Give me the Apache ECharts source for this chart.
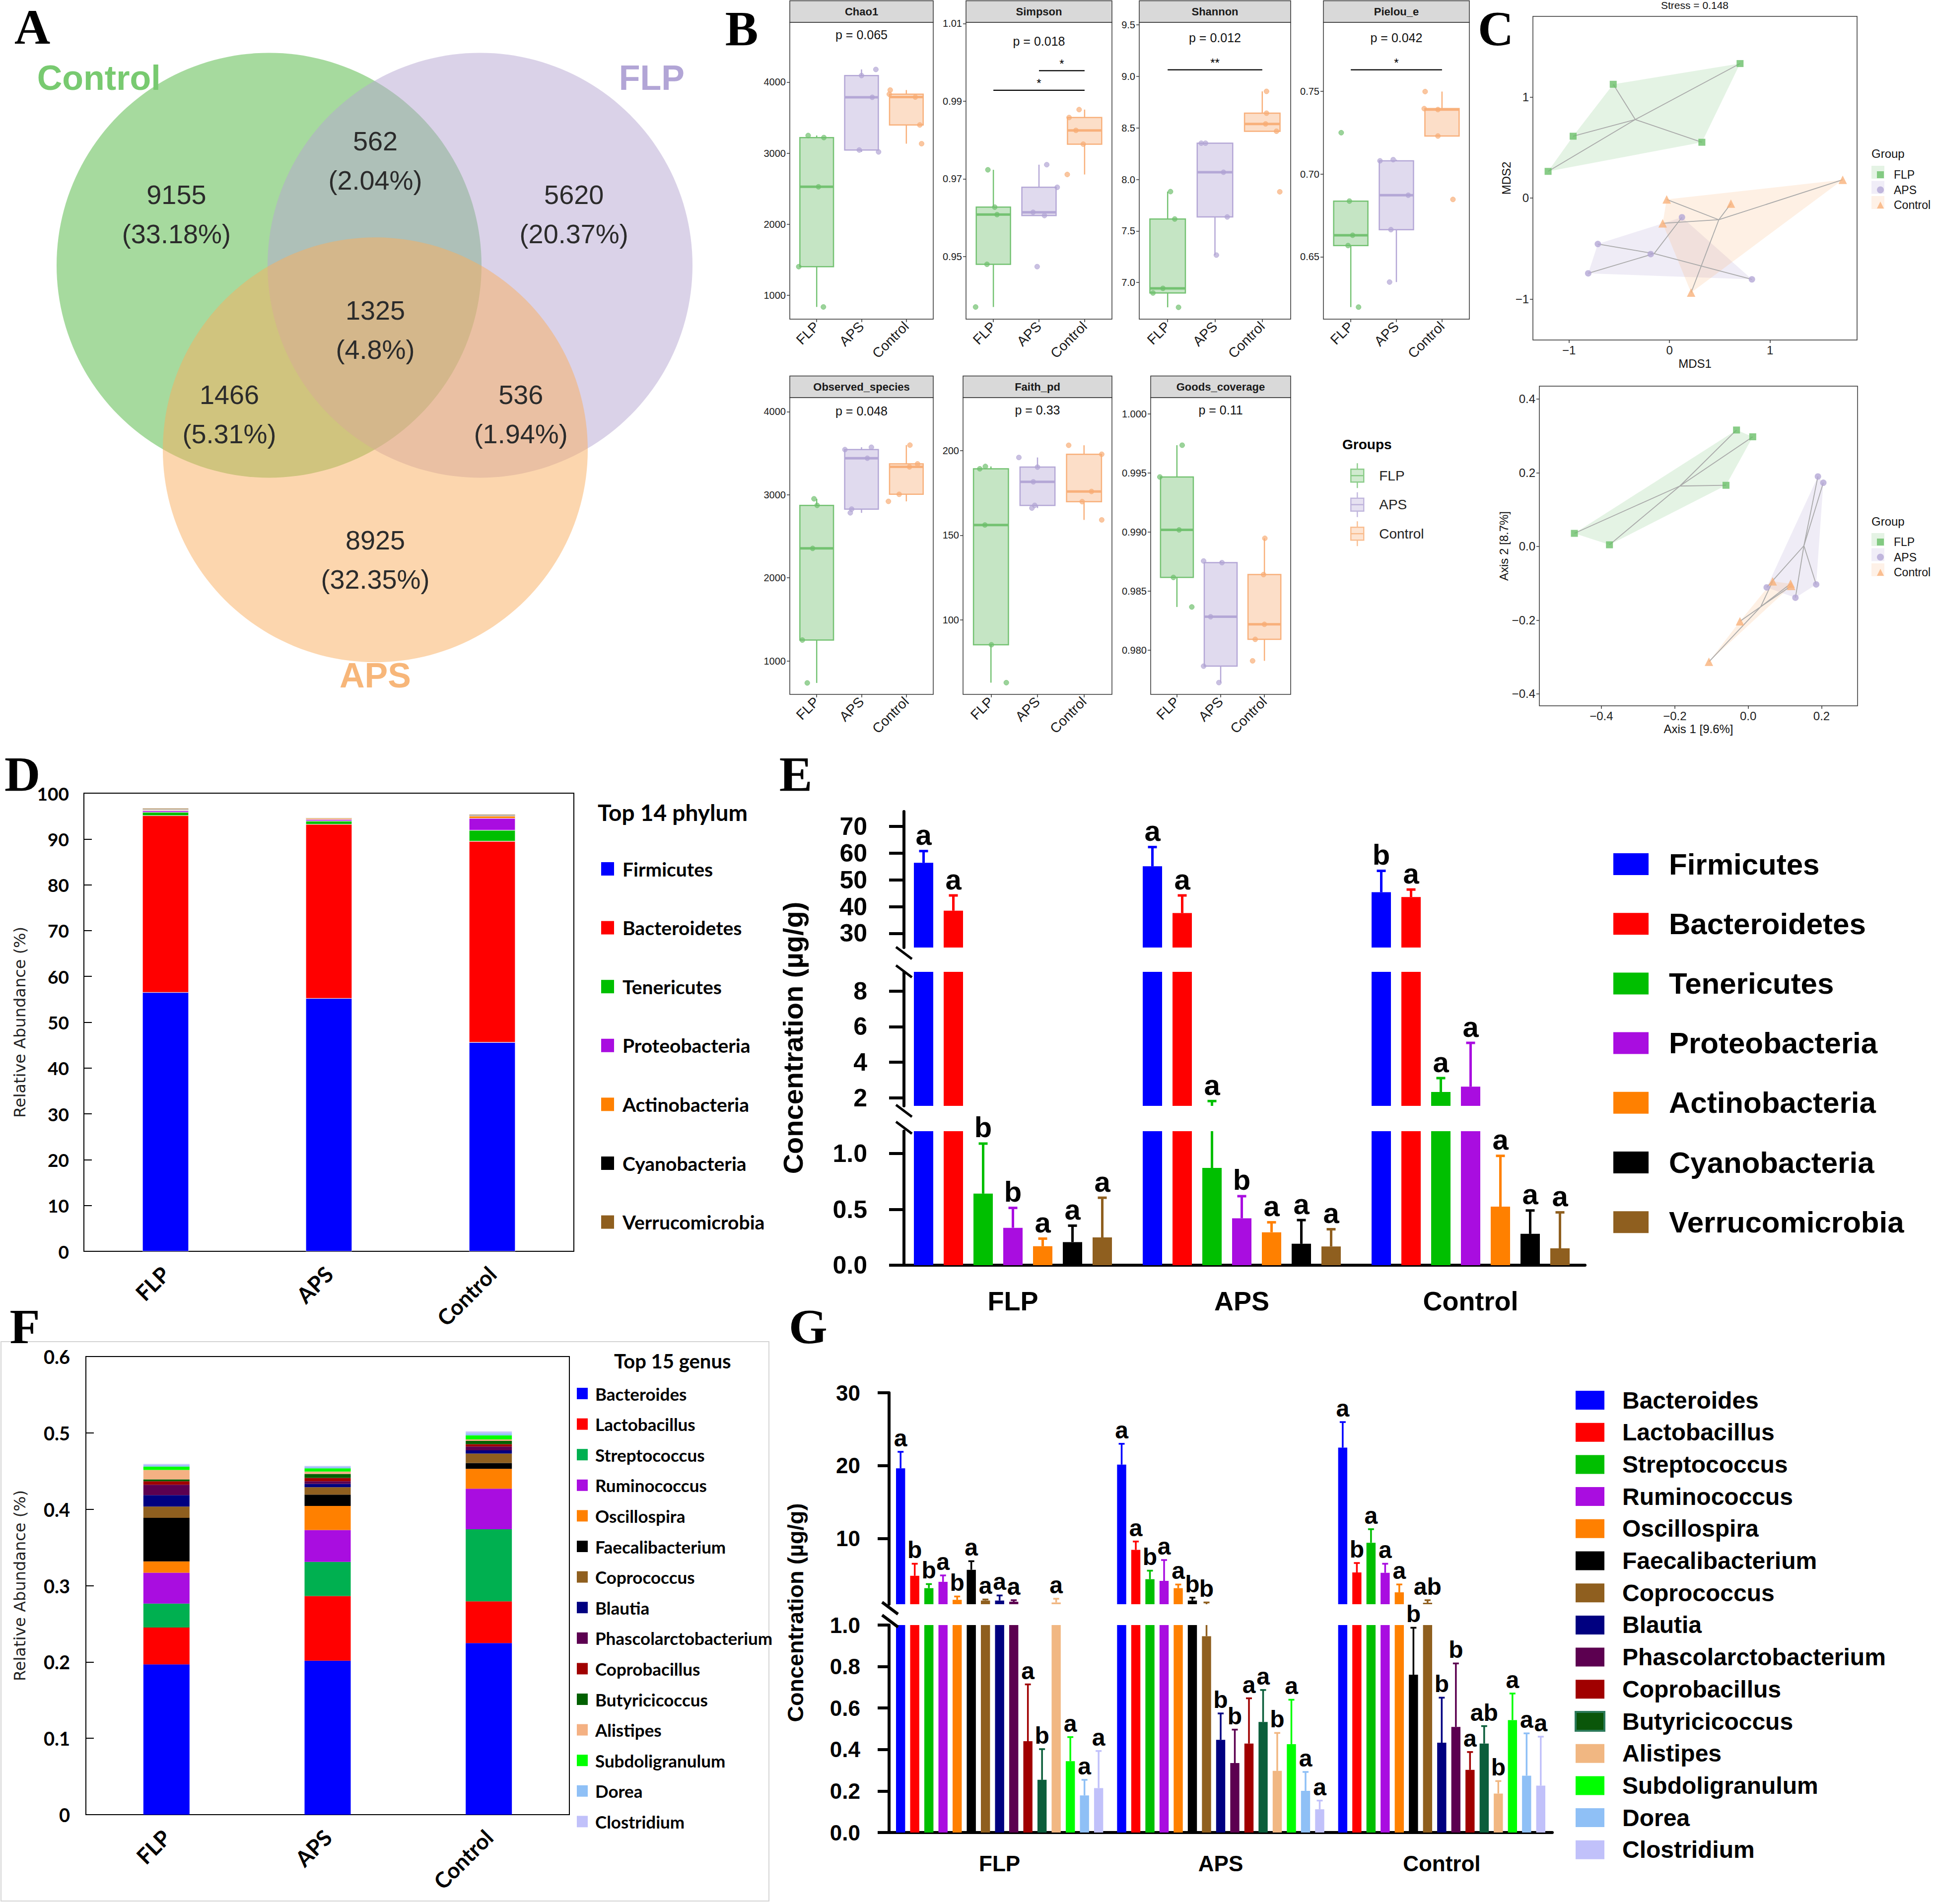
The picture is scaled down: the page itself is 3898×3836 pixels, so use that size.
<!DOCTYPE html>
<html><head><meta charset="utf-8"><title>Figure</title>
<script src="https://cdn.jsdelivr.net/npm/echarts@6.0.0/dist/echarts.min.js"></script>
<style>html,body{margin:0;padding:0;background:#fff;}#chart{width:3898px;height:3836px;}</style>
</head><body><div id="chart"></div>
<script>
// ================= DATA =================
const groups = ['FLP', 'APS', 'Control'];

// Panel A - Venn diagram (units = circle radius)
const vennSetNames = ['Control', 'FLP', 'APS'];
const vennCenters = [[0, 0], [0.993, 0], [0.5, -0.869]];
const vennRadius = 1;
const vennCounts = ['9155', '562', '5620', '1325', '1466', '536', '8925'];
const vennPercents = ['(33.18%)', '(2.04%)', '(20.37%)', '(4.8%)', '(5.31%)', '(1.94%)', '(32.35%)'];
const vennRegionAnchors = [[-0.436, 0.24], [0.5, 0.492], [1.435, 0.24], [0.5, -0.304], [-0.187, -0.701], [1.185, -0.701], [0.5, -1.387]];
const vennNameAnchors = [[-0.801, 0.883], [1.801, 0.883], [0.5, -1.932]];

// Panel B - alpha diversity, samples per group as [jittered x, value]
const alphaMetrics = ['Chao1', 'Simpson', 'Shannon', 'Pielou_e', 'Observed_species', 'Faith_pd', 'Goods_coverage'];
const alphaPLabels = ['p = 0.065', 'p = 0.018', 'p = 0.012', 'p = 0.042', 'p = 0.048', 'p = 0.33', 'p = 0.11'];
const chao1Points = [
  [[0.60, 1402], [0.81, 3248], [1.16, 3219], [1.04, 2526], [1.15, 835]],
  [[2.00, 4092], [2.32, 4178], [2.24, 3786], [1.95, 3044], [2.38, 3017]],
  [[2.64, 3888], [2.62, 3829], [3.20, 3789], [3.30, 3397], [3.34, 3133]]];
const simpsonPoints = [
  [[0.88, 0.97234], [1.03, 0.96273], [1.08, 0.96081], [0.86, 0.94802], [0.61, 0.93703]],
  [[2.17, 0.97366], [2.40, 0.96784], [1.87, 0.96141], [2.12, 0.96057], [1.96, 0.94742]],
  [[2.88, 0.98784], [2.66, 0.98580], [2.81, 0.98249], [2.97, 0.97895], [2.62, 0.97114]]];
const shannonPoints = [
  [[1.06, 7.882], [1.15, 7.616], [0.90, 6.943], [0.69, 6.898], [1.23, 6.759]],
  [[1.71, 8.352], [1.80, 8.352], [2.18, 8.070], [2.26, 7.636], [2.03, 7.266]],
  [[3.09, 8.855], [3.09, 8.643], [3.07, 8.539], [3.30, 8.468], [3.37, 7.880]]];
const pielouPoints = [
  [[0.79, 0.7250], [0.97, 0.68366], [1.04, 0.66301], [0.94, 0.65679], [1.17, 0.61959]],
  [[1.64, 0.7080], [1.93, 0.7087], [2.26, 0.6872], [1.88, 0.6664], [1.85, 0.63472]],
  [[2.63, 0.74986], [2.61, 0.73954], [2.91, 0.73897], [2.91, 0.72299], [3.24, 0.68466]]];
const observedPoints = [
  [[0.94, 2951], [1.01, 2872], [0.91, 2354], [0.68, 1251], [0.79, 735]],
  [[1.63, 3543], [2.22, 3571], [2.13, 3439], [1.78, 2827], [1.75, 2782]],
  [[3.08, 3597], [3.25, 3371], [3.07, 3335], [2.84, 3005], [2.60, 2920]]];
const faithPoints = [
  [[0.88, 190.7], [0.76, 189.3], [0.87, 156.1], [1.01, 85.3], [1.33, 62.9]],
  [[1.60, 196.0], [2.00, 190.3], [1.91, 181.6], [1.94, 167.7], [1.88, 166.1]],
  [[2.67, 203.2], [3.38, 197.9], [3.16, 175.9], [2.96, 169.9], [3.38, 159.1]]];
const goodsPoints = [
  [[1.12, 0.99734], [0.61, 0.99465], [1.05, 0.99017], [0.92, 0.98615], [1.34, 0.98365]],
  [[1.61, 0.98754], [2.03, 0.98740], [1.77, 0.98282], [1.61, 0.97864], [1.96, 0.97725]],
  [[3.01, 0.98946], [2.98, 0.98639], [3.00, 0.98218], [2.79, 0.98091], [2.73, 0.97909]]];
const alphaPoints = [chao1Points, simpsonPoints, shannonPoints, pielouPoints, observedPoints, faithPoints, goodsPoints];
const alphaYRange = [[663, 4841], [0.9339, 1.0103], [6.644, 9.525], [0.6123, 0.7917], [597, 4169], [55.96, 231.4], [0.97625, 1.00137]];
const alphaYTicks = [[1000, 2000, 3000, 4000], [0.95, 0.97, 0.99, 1.01], [7.0, 7.5, 8.0, 8.5, 9.0, 9.5], [0.65, 0.70, 0.75],
  [1000, 2000, 3000, 4000], [100, 150, 200], [0.980, 0.985, 0.990, 0.995, 1.000]];
const alphaTickDecimals = [0, 2, 1, 2, 0, 0, 3];
// [metric index, group a (1-based), group b, bar height, label]
const alphaSignif = [[1, 2, 3, 0.99787, '*'], [1, 1, 3, 0.99282, '*'], [2, 1, 3, 9.064, '**'], [3, 1, 3, 0.763, '*']];

// Panel C - ordinations
const nmdsFLP = [[0.702, 1.331], [-0.560, 1.126], [-0.959, 0.612], [0.322, 0.552], [-1.208, 0.264]];
const nmdsAPS = [[0.124, -0.190], [-0.713, -0.455], [-0.187, -0.555], [-0.809, -0.745], [0.820, -0.805]];
const nmdsControl = [[1.723, 0.181], [-0.028, -0.014], [0.611, -0.055], [-0.068, -0.250], [0.215, -0.936]];
const pcoaFLP = [[-0.0318, 0.316], [0.0124, 0.2976], [-0.0605, 0.166], [-0.4736, 0.0356], [-0.378, 0.0045]];
const pcoaAPS = [[0.190, 0.190], [0.2047, 0.173], [0.0504, -0.111], [0.1853, -0.103], [0.1287, -0.139]];
const pcoaControl = [[0.0667, -0.0947], [0.1155, -0.101], [0.117, -0.107], [-0.0225, -0.203], [-0.107, -0.313]];
const nmdsXTicks = [-1, 0, 1];
const nmdsYTicks = [-1, 0, 1];
const pcoaXTicks = [-0.4, -0.2, 0, 0.2];
const pcoaYTicks = [-0.4, -0.2, 0, 0.2, 0.4];

// Panel D - phylum relative abundance (%) [FLP, APS, Control]
const phyla = ['Firmicutes', 'Bacteroidetes', 'Tenericutes', 'Proteobacteria', 'Actinobacteria', 'Cyanobacteria', 'Verrucomicrobia'];
const phylumAbundance = [
  [56.5, 55.2, 45.6], [38.6, 38.0, 43.9], [0.73, 0.72, 2.4], [0.33, 0.33, 2.6],
  [0.13, 0.25, 0.5], [0.15, 0.12, 0.2], [0.25, 0.10, 0.2]];

// Panel E - phylum concentration (ug/g): mean, top of error bar, letters
const phylumConc = [
  [56.4, 55.1, 45.4], [38.5, 37.6, 43.6], [0.641, 0.871, 2.33], [0.335, 0.42, 2.63],
  [0.170, 0.295, 0.524], [0.207, 0.192, 0.281], [0.249, 0.168, 0.151]];
const phylumConcErr = [
  [60.8, 62.3, 53.4], [44.2, 44.2, 46.4], [1.089, 1.82, 3.11], [0.513, 0.618, 5.09],
  [0.238, 0.384, 0.979], [0.354, 0.404, 0.49], [0.604, 0.322, 0.473]];
const phylumLetters = [['a', 'a', 'b'], ['a', 'a', 'a'], ['b', 'a', 'a'], ['b', 'b', 'a'], ['a', 'a', 'a'], ['a', 'a', 'a'], ['a', 'a', 'a']];
const eSegments = [[24.7, 75.6], [1.55, 9.08], [0, 1.2]];
const eTicks = [[30, 40, 50, 60, 70], [2, 4, 6, 8], [0, 0.5, 1.0]];

// Panel F - genus relative abundance [FLP, APS, Control]
const genera = ['Bacteroides', 'Lactobacillus', 'Streptococcus', 'Ruminococcus', 'Oscillospira', 'Faecalibacterium', 'Coprococcus',
  'Blautia', 'Phascolarctobacterium', 'Coprobacillus', 'Butyricicoccus', 'Alistipes', 'Subdoligranulum', 'Dorea', 'Clostridium'];
const genusAbundance = [
  [0.1968, 0.2017, 0.2248], [0.0482, 0.0846, 0.0546], [0.0315, 0.0447, 0.0944], [0.0404, 0.0418, 0.0531],
  [0.0148, 0.0315, 0.0261], [0.0571, 0.0148, 0.0076], [0.0148, 0.0098, 0.0123], [0.0148, 0.0044, 0.0043],
  [0.0138, 0.0034, 0.0050], [0.0044, 0.0043, 0.0030], [0.0025, 0.0053, 0.0043], [0.0123, 0.0030, 0.0019],
  [0.0044, 0.0043, 0.0054], [0.0020, 0.0020, 0.0027], [0.0015, 0.0011, 0.0023]];

// Panel G - genus concentration (ug/g)
const genusConc = [
  [19.64, 20.15, 22.47], [4.9, 8.45, 5.36], [3.2, 4.43, 9.43], [4.07, 4.2, 5.31], [1.6, 3.2, 2.63],
  [5.72, 1.5, 0.761], [1.5, 0.946, 1.2], [1.5, 0.447, 0.433], [1.34, 0.335, 0.509], [0.44, 0.429, 0.302],
  [0.254, 0.533, 0.429], [1.24, 0.297, 0.188], [0.344, 0.426, 0.542], [0.179, 0.201, 0.274], [0.214, 0.112, 0.226]];
const genusConcErr = [
  [21.9, 23.0, 25.98], [6.55, 9.6, 6.65], [3.76, 5.6, 11.29], [4.95, 7.06, 6.55], [2.06, 3.7, 3.71],
  [6.9, 1.9, 0.987], [1.65, 1.24, 1.55], [2.2, 0.574, 0.65], [1.55, 0.496, 0.815], [0.714, 0.647, 0.388],
  [0.402, 0.687, 0.513], [1.75, 0.48, 0.248], [0.46, 0.64, 0.67], [0.254, 0.292, 0.478], [0.393, 0.154, 0.462]];
const genusLetters = [
  ['a', 'a', 'a'], ['b', 'a', 'b'], ['b', 'b', 'a'], ['a', 'a', 'a'], ['b', 'a', 'a'], ['a', 'b', 'b'], ['a', 'b', 'ab'],
  ['a', 'b', 'b'], ['a', 'b', 'b'], ['a', 'a', 'a'], ['b', 'a', 'ab'], ['a', 'b', 'b'], ['a', 'a', 'a'], ['a', 'a', 'a'], ['a', 'a', 'a']];
const gSegments = [[1, 30], [0, 1]];
const gTicks = [[10, 20, 30], [0, 0.2, 0.4, 0.6, 0.8, 1.0]];

// ================= STYLE / LAYOUT =================
const SANS = "'Liberation Sans', Arial, Helvetica, sans-serif";
const SERIF = "'Liberation Serif', 'DejaVu Serif', serif";
const CAL = "Lato, 'Open Sans', sans-serif";
const DEJ = "'DejaVu Sans', Verdana, sans-serif";

const phylumColors = ['#0000ff', '#ff0000', '#00bf00', '#a90de0', '#ff8000', '#000000', '#8f5f1f'];
const genusColorsF = ['#0000ff', '#ff0000', '#00b050', '#a90de0', '#ff8000', '#000000', '#8f5f1f', '#000080', '#5c0050', '#a00000', '#006000', '#f4b183', '#00ff00', '#8fc0f6', '#c1c1fa'];
const genusColorsG = ['#0000ff', '#ff0000', '#00bf00', '#a90de0', '#ff8000', '#000000', '#8f5f1f', '#000080', '#5c0050', '#a00000', '#0b5e3b', '#f1b782', '#00ff00', '#8fc0f6', '#c1c1fa'];

const grid = [], xAxis = [], yAxis = [], series = [], legend = [], graphic = [];
function addGrid(r, extra) {
  grid.push(Object.assign({left: r[0], top: r[1], width: r[2], height: r[3], containLabel: false}, extra || {}));
  return grid.length - 1;
}
function txt(x, y, text, size, o) {
  o = o || {};
  return {type: 'text', x: x, y: y, rotation: o.rotation || 0, z: 100, silent: true,
    style: {text: text, fontSize: size, fontFamily: o.family || SANS, fontWeight: o.weight || 'normal', fontStyle: o.style || 'normal',
      fill: o.color || '#000', textAlign: o.align || 'center', align: o.align || 'center',
      textVerticalAlign: o.valign || 'middle', verticalAlign: o.valign || 'middle'}};
}
function gline(x1, y1, x2, y2, w, c) {
  return {type: 'line', silent: true, z: 100, shape: {x1: x1, y1: y1, x2: x2, y2: y2}, style: {stroke: c || '#000', lineWidth: w}};
}
function quantile(s, p) { const h = (s.length - 1) * p, lo = Math.floor(h), hi = Math.ceil(h); return s[lo] + (s[hi] - s[lo]) * (h - lo); }
function boxStats(vals) {
  const s = vals.slice().sort((a, b) => a - b);
  const q1 = quantile(s, 0.25), med = quantile(s, 0.5), q3 = quantile(s, 0.75), iqr = q3 - q1;
  const lo = s.find(v => v >= q1 - 1.5 * iqr);
  const hi = s.slice().reverse().find(v => v <= q3 + 1.5 * iqr);
  return [lo, q1, med, q3, hi];
}
function convexHull(pts) {
  const p = pts.map(q => [q[0], q[1]]).sort((a, b) => a[0] - b[0] || a[1] - b[1]);
  const cross = (o, a, b) => (a[0] - o[0]) * (b[1] - o[1]) - (a[1] - o[1]) * (b[0] - o[0]);
  const lower = [], upper = [];
  for (const q of p) { while (lower.length >= 2 && cross(lower[lower.length - 2], lower[lower.length - 1], q) <= 0) lower.pop(); lower.push(q); }
  for (let i = p.length - 1; i >= 0; i--) { const q = p[i]; while (upper.length >= 2 && cross(upper[upper.length - 2], upper[upper.length - 1], q) <= 0) upper.pop(); upper.push(q); }
  upper.pop(); lower.pop();
  return lower.concat(upper);
}
function fmtMinus(v, d) { return (v < -1e-9 ? '\u2212' : '') + Math.abs(v).toFixed(d); }

// Panel letters
[['A', 65, 54], ['B', 1494, 57], ['C', 3013, 57], ['D', 45, 1559], ['E', 1603, 1559], ['F', 50, 2672], ['G', 1628, 2672]]
  .forEach(a => graphic.push(txt(a[1], a[2], a[0], 100, {family: SERIF, weight: 'bold'})));

// ================= PANEL A =================
(function () {
  const gi = addGrid([7, 21, 1498, 1412]);
  xAxis.push({gridIndex: gi, type: 'value', min: -1.25, max: 2.25, show: false});
  yAxis.push({gridIndex: gi, type: 'value', min: -2.1, max: 1.2, show: false});
  const fills = ['rgba(77,181,61,0.5)', 'rgba(181,165,209,0.5)', 'rgba(249,173,93,0.5)'];
  const nameColors = ['#78ca70', '#b2a5d6', '#f7b679'];
  series.push({type: 'custom', name: 'venn-sets', xAxisIndex: gi, yAxisIndex: gi, silent: true, z: 1,
    data: vennCenters.map(c => [c[0], c[1], vennRadius]),
    renderItem: (p, api) => {
      const c = api.coord([api.value(0), api.value(1)]);
      const r = api.size([api.value(2), 0])[0];
      return {type: 'circle', shape: {cx: c[0], cy: c[1], r: r}, style: {fill: fills[p.dataIndex]}};
    }});
  series.push({type: 'custom', name: 'venn-counts', xAxisIndex: gi, yAxisIndex: gi, silent: true, z: 3,
    data: vennRegionAnchors,
    renderItem: (p, api) => {
      const c = api.coord([api.value(0), api.value(1)]);
      return {type: 'text', x: c[0], y: c[1], style: {text: vennCounts[p.dataIndex] + '\n' + vennPercents[p.dataIndex],
        fontSize: 54, lineHeight: 79, fontFamily: SANS, fill: '#2b2b2b', align: 'center', textAlign: 'center', verticalAlign: 'middle', textVerticalAlign: 'middle'}};
    }});
  series.push({type: 'custom', name: 'venn-names', xAxisIndex: gi, yAxisIndex: gi, silent: true, z: 3,
    data: vennNameAnchors,
    renderItem: (p, api) => {
      const c = api.coord([api.value(0), api.value(1)]);
      return {type: 'text', x: c[0], y: c[1], style: {text: vennSetNames[p.dataIndex], fontSize: 70, fontWeight: 'bold', fontFamily: SANS,
        fill: nameColors[p.dataIndex], align: 'center', textAlign: 'center', verticalAlign: 'middle', textVerticalAlign: 'middle'}};
    }});
})();

// ================= PANEL B =================
const bRects = [[1591, 45, 289, 598], [1946, 45, 294, 598], [2295, 45, 305, 598], [2666, 45, 294, 598],
  [1591, 801, 289, 598], [1940, 801, 300, 598], [2318, 801, 282, 598]];
const pLabelY = [70, 83, 76, 76, 828, 826, 826];
const bLine = ['#74c272', '#b4a7d6', '#f8b07b'];
const bFill = ['rgba(116,194,114,0.42)', 'rgba(180,167,214,0.42)', 'rgba(248,176,123,0.42)'];
const bPoint = ['rgba(108,190,106,0.85)', 'rgba(176,162,211,0.85)', 'rgba(247,171,115,0.85)'];
alphaMetrics.forEach((m, mi) => {
  const r = bRects[mi];
  const gi = addGrid(r, {show: true, borderColor: '#333', borderWidth: 1.5});
  xAxis.push({gridIndex: gi, type: 'value', min: 0.4, max: 3.6, splitLine: {show: false}, axisLine: {show: false, onZero: false},
    axisTick: {show: true, customValues: [1, 2, 3], length: 6, lineStyle: {color: '#333', width: 1.5}},
    axisLabel: {customValues: [1, 2, 3], formatter: v => groups[Math.round(v) - 1], rotate: 45, fontSize: 28, fontFamily: SANS, color: '#1a1a1a', margin: 10}});
  yAxis.push({gridIndex: gi, type: 'value', min: alphaYRange[mi][0], max: alphaYRange[mi][1], splitLine: {show: false}, axisLine: {show: false, onZero: false},
    axisTick: {show: true, customValues: alphaYTicks[mi], length: 6, lineStyle: {color: '#333', width: 1.5}},
    axisLabel: {customValues: alphaYTicks[mi], formatter: v => v.toFixed(alphaTickDecimals[mi]), fontSize: 20, fontFamily: SANS, color: '#1a1a1a', margin: 8}});
  graphic.push({type: 'rect', silent: true, z: 90, shape: {x: r[0], y: r[1] - 43.6, width: r[2], height: 43.6}, style: {fill: '#d9d9d9', stroke: '#333', lineWidth: 1.5}});
  graphic.push(txt(r[0] + r[2] / 2, r[1] - 21.8, m, 22, {weight: 'bold', color: '#1a1a1a'}));
  graphic.push(txt(r[0] + r[2] / 2, pLabelY[mi], alphaPLabels[mi], 25, {color: '#111'}));
  series.push({type: 'custom', name: 'box-' + m, xAxisIndex: gi, yAxisIndex: gi, silent: true, z: 2,
    data: groups.map((g, k) => [k + 1].concat(boxStats(alphaPoints[mi][k].map(q => q[1])))),
    renderItem: (p, api) => {
      const k = p.dataIndex, x = api.value(0);
      const hw = api.size([0.375, 0])[0];
      const X = api.coord([x, api.value(3)])[0];
      const y = [1, 2, 3, 4, 5].map(i => api.coord([x, api.value(i)])[1]);
      return {type: 'group', children: [
        {type: 'line', shape: {x1: X, y1: y[1], x2: X, y2: y[0]}, style: {stroke: bLine[k], lineWidth: 2.5}},
        {type: 'line', shape: {x1: X, y1: y[3], x2: X, y2: y[4]}, style: {stroke: bLine[k], lineWidth: 2.5}},
        {type: 'rect', shape: {x: X - hw, y: y[3], width: 2 * hw, height: y[1] - y[3]}, style: {fill: bFill[k], stroke: bLine[k], lineWidth: 2.5}},
        {type: 'line', shape: {x1: X - hw, y1: y[2], x2: X + hw, y2: y[2]}, style: {stroke: bLine[k], lineWidth: 5}}]};
    }});
  groups.forEach((g, k) => series.push({type: 'scatter', name: g, xAxisIndex: gi, yAxisIndex: gi, silent: true, z: 4,
    data: alphaPoints[mi][k], symbolSize: 10, itemStyle: {color: bPoint[k], borderColor: bLine[k], borderWidth: 1}}));
  const sig = alphaSignif.filter(s => s[0] === mi);
  if (sig.length) series.push({type: 'custom', name: 'sig-' + m, xAxisIndex: gi, yAxisIndex: gi, silent: true, z: 5,
    data: sig.map(s => [s[1], s[2], s[3]]),
    renderItem: (p, api) => {
      const a = api.coord([api.value(0), api.value(2)]), b = api.coord([api.value(1), api.value(2)]);
      return {type: 'group', children: [
        {type: 'line', shape: {x1: a[0], y1: a[1], x2: b[0], y2: b[1]}, style: {stroke: '#000', lineWidth: 2.2}},
        {type: 'text', x: (a[0] + b[0]) / 2, y: a[1] - 14, style: {text: sig[p.dataIndex][4], fontSize: 24, fontFamily: SANS, fill: '#000',
          align: 'center', textAlign: 'center', verticalAlign: 'middle', textVerticalAlign: 'middle'}}]};
    }});
});
graphic.push(txt(2704, 895, 'Groups', 28, {weight: 'bold', align: 'left'}));
legend.push({orient: 'vertical', left: 2715, top: 927, itemWidth: 30, itemHeight: 50, itemGap: 6, selectedMode: false,
  icon: 'path://M15,0L15,12M2,12L28,12L28,38L2,38ZM2,25L28,25M15,38L15,50',
  textStyle: {fontSize: 28, fontFamily: SANS, color: '#222', lineHeight: 28, padding: [0, 0, 0, 24]},
  data: groups.map((g, k) => ({name: g, itemStyle: {color: bFill[k], borderColor: bLine[k], borderWidth: 2.5}}))});

// ================= PANEL C =================
const cColors = ['#6abf69', '#b4a7d6', '#f9b27a'];
const cFill = ['rgba(106,191,105,0.18)', 'rgba(180,167,214,0.22)', 'rgba(249,178,122,0.2)'];
const cKeyBg = ['rgba(106,191,105,0.18)', 'rgba(180,167,214,0.2)', 'rgba(249,178,122,0.18)'];
const cSymbols = ['rect', 'circle', 'triangle'];
const cSizes = [14, 13, 17];
function addOrdination(r, sets, xr, yr, xt, yt, dec, xName, yName, xGap, yGap) {
  const gi = addGrid(r, {show: true, borderColor: '#333', borderWidth: 1.5});
  xAxis.push({gridIndex: gi, type: 'value', min: xr[0], max: xr[1], splitLine: {show: false}, axisLine: {show: false, onZero: false},
    axisTick: {customValues: xt, length: 6, lineStyle: {color: '#333', width: 1.5}},
    axisLabel: {customValues: xt, formatter: v => fmtMinus(v, dec), fontSize: 24, fontFamily: SANS, color: '#222', margin: 8},
    name: xName, nameLocation: 'middle', nameGap: xGap, nameTextStyle: {fontSize: 24, fontFamily: SANS, color: '#111'}});
  yAxis.push({gridIndex: gi, type: 'value', min: yr[0], max: yr[1], splitLine: {show: false}, axisLine: {show: false, onZero: false},
    axisTick: {customValues: yt, length: 6, lineStyle: {color: '#333', width: 1.5}},
    axisLabel: {customValues: yt, formatter: v => fmtMinus(v, dec), fontSize: 24, fontFamily: SANS, color: '#222', margin: 8},
    name: yName, nameLocation: 'middle', nameGap: yGap, nameTextStyle: {fontSize: 24, fontFamily: SANS, color: '#111'}});
  sets.forEach((pts, k) => {
    const cen = [pts.reduce((s, q) => s + q[0], 0) / pts.length, pts.reduce((s, q) => s + q[1], 0) / pts.length];
    series.push({type: 'custom', name: groups[k] + '-hull', xAxisIndex: gi, yAxisIndex: gi, silent: true, z: 1, data: pts,
      renderItem: (p, api) => {
        if (p.dataIndex !== 0) return null;
        return {type: 'polygon', shape: {points: convexHull(pts.map(q => api.coord(q)))}, style: {fill: cFill[k]}};
      }});
    series.push({type: 'custom', name: groups[k] + '-spider', xAxisIndex: gi, yAxisIndex: gi, silent: true, z: 2, data: pts,
      renderItem: (p, api) => {
        const a = api.coord(cen), b = api.coord([api.value(0), api.value(1)]);
        return {type: 'line', shape: {x1: a[0], y1: a[1], x2: b[0], y2: b[1]}, style: {stroke: '#a9a9a9', lineWidth: 1.8}};
      }});
    series.push({type: 'scatter', name: groups[k], xAxisIndex: gi, yAxisIndex: gi, silent: true, z: 3, data: pts,
      symbol: cSymbols[k], symbolSize: cSizes[k], itemStyle: {color: cColors[k]}});
  });
}
addOrdination([3088, 33, 653, 652], [nmdsFLP, nmdsAPS, nmdsControl], [-1.359, 1.866], [-1.405, 1.798], nmdsXTicks, nmdsYTicks, 0, 'MDS1', 'MDS2', 35, 42);
addOrdination([3101, 778, 641, 644], [pcoaFLP, pcoaAPS, pcoaControl], [-0.569, 0.298], [-0.4324, 0.435], pcoaXTicks, pcoaYTicks, 1, 'Axis 1 [9.6%]', 'Axis 2 [8.7%]', 34, 58);
graphic.push(txt(3414, 10, 'Stress = 0.148', 21, {color: '#111'}));
[[309, 335], [1050, 1075]].forEach(pos => {
  graphic.push(txt(3770, pos[0], 'Group', 24, {align: 'left', color: '#111'}));
  groups.forEach((g, k) => graphic.push({type: 'rect', silent: true, z: 1, shape: {x: 3770, y: pos[1] + 12 + k * 30.5 - 13, width: 26, height: 26}, style: {fill: cKeyBg[k]}}));
  legend.push({orient: 'vertical', left: 3776, top: pos[1], itemWidth: 14, itemHeight: 14, itemGap: 6.5, selectedMode: false,
    textStyle: {fontSize: 23, fontFamily: SANS, color: '#111', lineHeight: 24, padding: [0, 0, 0, 15]},
    data: groups.map((g, k) => ({name: g, icon: cSymbols[k], itemStyle: {color: cColors[k], borderWidth: 0}}))});
});

// ================= PANEL D =================
(function () {
  const gi = addGrid([169, 1598, 987, 923], {show: true, borderColor: '#000', borderWidth: 2});
  xAxis.push({gridIndex: gi, type: 'category', data: groups, axisLine: {lineStyle: {color: '#000', width: 2}}, axisTick: {show: false},
    axisLabel: {rotate: 45, interval: 0, fontSize: 44, fontWeight: 'bold', fontFamily: CAL, color: '#000', margin: 38}});
  yAxis.push({gridIndex: gi, type: 'value', min: 0, max: 100, interval: 10, splitLine: {show: false},
    axisLine: {show: true, lineStyle: {color: '#000', width: 2}}, axisTick: {show: true, inside: true, length: 16, lineStyle: {color: '#000', width: 2}},
    axisLabel: {fontSize: 37, fontWeight: 'bold', fontFamily: CAL, color: '#000', margin: 30},
    name: 'Relative Abundance (%)', nameLocation: 'middle', nameGap: 113, nameTextStyle: {fontSize: 32, fontFamily: DEJ, color: '#222'}});
  phyla.forEach((ph, k) => series.push({type: 'bar', name: ph, xAxisIndex: gi, yAxisIndex: gi, stack: 'D', barWidth: 93, silent: true,
    data: phylumAbundance[k], itemStyle: {color: phylumColors[k], borderColor: '#fff', borderWidth: 0.6}}));
  graphic.push(txt(1204, 1636, 'Top 14 phylum', 46, {family: CAL, weight: 'bold', align: 'left'}));
  legend.push({orient: 'vertical', left: 1206, top: 1726, itemWidth: 26, itemHeight: 27, itemGap: 79.6, icon: 'rect', selectedMode: false,
    textStyle: {fontSize: 39, fontWeight: 'bold', fontFamily: CAL, color: '#000', lineHeight: 38, padding: [0, 0, 0, 12]},
    data: phyla.map((ph, k) => ({name: ph, itemStyle: {color: phylumColors[k], borderWidth: 0}}))});
})();

// ================= Broken-axis bar helper =================
function brokenBars(names, colors, means, errs, letters, gi, seg, geo) {
  const n = names.length;
  names.forEach((nm, k) => series.push({type: 'custom', name: nm, xAxisIndex: gi, yAxisIndex: gi, silent: true, z: 5,
    itemStyle: {color: colors[k]},
    data: groups.map((g, i) => [i, means[k][i], errs[k][i]]),
    renderItem: (p, api) => {
      const gIdx = api.value(0), v = api.value(1), e = api.value(2);
      const band = api.size([1, 0])[0];
      const cx = api.coord([gIdx, 0])[0] + (k - (n - 1) / 2) * band * geo.step;
      const w = band * geo.width, cw = band * geo.cap;
      const lo = seg[0], hi = seg[1];
      const ch = [];
      const base = Math.max(0, lo), top = Math.min(v, hi);
      if (top > base) {
        const y0 = api.coord([gIdx, base])[1], y1 = api.coord([gIdx, top])[1];
        ch.push({type: 'rect', shape: {x: cx - w / 2, y: y1, width: w, height: y0 - y1}, style: {fill: colors[k]}});
      }
      const el = Math.max(v, lo), eh = Math.min(e, hi);
      if (eh > el) {
        const y0 = api.coord([gIdx, el])[1], y1 = api.coord([gIdx, eh])[1];
        ch.push({type: 'line', shape: {x1: cx, y1: y0, x2: cx, y2: y1}, style: {stroke: colors[k], lineWidth: geo.lw}});
      }
      if (e >= lo && e <= hi) {
        const ye = api.coord([gIdx, e])[1];
        ch.push({type: 'line', shape: {x1: cx - cw / 2, y1: ye, x2: cx + cw / 2, y2: ye}, style: {stroke: colors[k], lineWidth: geo.lw}});
        ch.push({type: 'text', x: cx, y: ye - geo.lg, style: {text: letters[k][gIdx], fontSize: geo.lf, fontWeight: 'bold', fontFamily: SANS, fill: '#000',
          align: 'center', textAlign: 'center', verticalAlign: 'bottom', textVerticalAlign: 'bottom'}});
      }
      return {type: 'group', children: ch};
    }}));
}
function breakMarks(x, ys, w) {
  ys.forEach(y => graphic.push(gline(x - 16, y - 12, x + 16, y + 12, w)));
}

// ================= PANEL E =================
(function () {
  const rects = [[1810, 1635, 1383, 274], [1810, 1958, 1383, 270], [1810, 2279, 1383, 270]];
  const geo = {step: 60 / 461, width: 39 / 461, cap: 18 / 461, lw: 5, lg: 4, lf: 58};
  rects.forEach((r, si) => {
    const gi = addGrid(r);
    const bottom = si === rects.length - 1;
    xAxis.push({gridIndex: gi, type: 'category', data: groups, show: bottom,
      axisLine: {lineStyle: {color: '#000', width: 6}}, axisTick: {alignWithLabel: true, length: 32, lineStyle: {color: '#000', width: 6}},
      axisLabel: {fontSize: 54, fontWeight: 'bold', fontFamily: SANS, color: '#000', margin: 45}});
    yAxis.push({gridIndex: gi, type: 'value', min: eSegments[si][0], max: eSegments[si][1], offset: -11, splitLine: {show: false},
      axisLine: {show: true, onZero: false, lineStyle: {color: '#000', width: 6}},
      axisTick: {show: true, customValues: eTicks[si], length: 30, lineStyle: {color: '#000', width: 6}},
      axisLabel: {customValues: eTicks[si], formatter: v => bottom ? v.toFixed(1) : String(v), fontSize: 50, fontWeight: 'bold', fontFamily: SANS, color: '#000', margin: 74}});
    brokenBars(phyla, phylumColors, phylumConc, phylumConcErr, phylumLetters, gi, eSegments[si], geo);
  });
  breakMarks(1821, [1920, 1957, 2238, 2272], 5);
  graphic.push(txt(1597, 2091, 'Concentration (\u00b5g/g)', 56, {weight: 'bold', rotation: Math.PI / 2}));
  legend.push({orient: 'vertical', left: 3245, top: 1706, itemWidth: 71, itemHeight: 44, itemGap: 60.2, icon: 'rect', selectedMode: false,
    textStyle: {fontSize: 60, fontWeight: 'bold', fontFamily: SANS, color: '#000', lineHeight: 60, padding: [0, 0, 0, 36]},
    data: phyla.map((ph, k) => ({name: ph, itemStyle: {color: phylumColors[k], borderWidth: 0}}))});
})();

// ================= PANEL F =================
(function () {
  const gi = addGrid([173, 2733, 974, 923], {show: true, borderColor: '#000', borderWidth: 2});
  xAxis.push({gridIndex: gi, type: 'category', data: groups, axisLine: {lineStyle: {color: '#000', width: 2}}, axisTick: {show: false},
    axisLabel: {rotate: 45, interval: 0, fontSize: 44, fontWeight: 'bold', fontFamily: CAL, color: '#000', margin: 38}});
  yAxis.push({gridIndex: gi, type: 'value', min: 0, max: 0.6, interval: 0.1, splitLine: {show: false},
    axisLine: {show: true, lineStyle: {color: '#000', width: 2}}, axisTick: {show: true, inside: true, length: 16, lineStyle: {color: '#000', width: 2}},
    axisLabel: {fontSize: 38, fontWeight: 'bold', fontFamily: CAL, color: '#000', margin: 32, formatter: v => (v === 0 ? '0' : v.toFixed(1))},
    name: 'Relative Abundance (%)', nameLocation: 'middle', nameGap: 117, nameTextStyle: {fontSize: 32, fontFamily: DEJ, color: '#222'}});
  genera.forEach((gn, k) => series.push({type: 'bar', name: gn, xAxisIndex: gi, yAxisIndex: gi, stack: 'F', barWidth: 93, silent: true,
    data: genusAbundance[k], itemStyle: {color: genusColorsF[k], borderWidth: 0}}));
  graphic.push({type: 'rect', silent: true, z: 0, shape: {x: 2, y: 2703, width: 1547, height: 1127}, style: {fill: 'none', stroke: '#d4d4d4', lineWidth: 2}});
  graphic.push(txt(1237, 2742, 'Top 15 genus', 40, {family: CAL, weight: 'bold', align: 'left'}));
  legend.push({orient: 'vertical', left: 1157, top: 2785, itemWidth: 22, itemHeight: 23, itemGap: 26.6, icon: 'rect', selectedMode: false,
    textStyle: {fontSize: 35, fontWeight: 'bold', fontFamily: CAL, color: '#000', lineHeight: 35, padding: [0, 0, 0, 10]},
    data: genera.map((gn, k) => ({name: gn, itemStyle: {color: genusColorsF[k], borderWidth: 0}}))});
})();

// ================= PANEL G =================
(function () {
  const rects = [[1791, 2806, 1336, 426], [1791, 3274, 1336, 418]];
  const geo = {step: 28.5 / 445.4, width: 18.4 / 445.4, cap: 12 / 445.4, lw: 3.5, lg: 3.5, lf: 48};
  rects.forEach((r, si) => {
    const gi = addGrid(r);
    const bottom = si === rects.length - 1;
    xAxis.push({gridIndex: gi, type: 'category', data: groups, show: bottom,
      axisLine: {lineStyle: {color: '#000', width: 6}}, axisTick: {alignWithLabel: true, length: 23, lineStyle: {color: '#000', width: 6}},
      axisLabel: {fontSize: 44, fontWeight: 'bold', fontFamily: SANS, color: '#000', margin: 40}});
    yAxis.push({gridIndex: gi, type: 'value', min: gSegments[si][0], max: gSegments[si][1], splitLine: {show: false},
      axisLine: {show: true, onZero: false, lineStyle: {color: '#000', width: 6}},
      axisTick: {show: true, customValues: gTicks[si], length: 23, lineStyle: {color: '#000', width: 6}},
      axisLabel: {customValues: gTicks[si], formatter: v => bottom ? v.toFixed(1) : String(v), fontSize: 44, fontWeight: 'bold', fontFamily: SANS, color: '#000', margin: 58}});
    brokenBars(genera, genusColorsG, genusConc, genusConcErr, genusLetters, gi, gSegments[si], geo);
  });
  breakMarks(1793, [3240, 3266], 6);
  graphic.push(txt(1602, 3249, 'Concentration (\u00b5g/g)', 45, {weight: 'bold', rotation: Math.PI / 2}));
  legend.push({orient: 'vertical', left: 3167, top: 2792, itemWidth: 58, itemHeight: 38, itemGap: 16.7, icon: 'rect', selectedMode: false,
    textStyle: {fontSize: 48, fontWeight: 'bold', fontFamily: SANS, color: '#000', lineHeight: 48, padding: [0, 0, 0, 31]},
    data: genera.map((gn, k) => ({name: gn, itemStyle: k === 10 ? {color: '#0a560a', borderColor: '#2c7a5a', borderWidth: 4} : {color: genusColorsG[k], borderWidth: 0}}))});
})();

// ================= RENDER =================
const chart = echarts.init(document.getElementById('chart'), null, {renderer: 'svg', width: 3898, height: 3836});
chart.setOption({animation: false, backgroundColor: '#fff', textStyle: {fontFamily: SANS},
  grid: grid, xAxis: xAxis, yAxis: yAxis, series: series, legend: legend, graphic: graphic});
</script></body></html>
